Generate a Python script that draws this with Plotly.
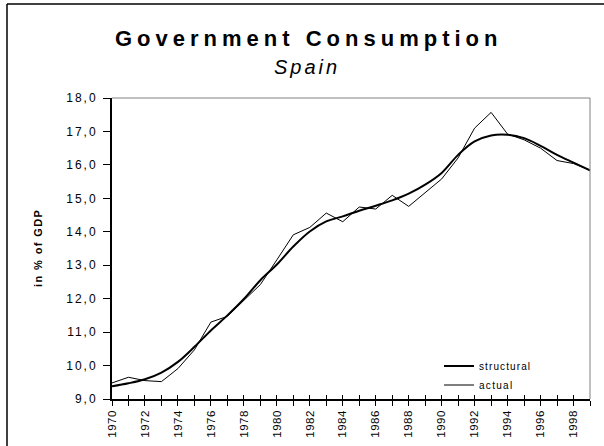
import plotly.graph_objects as go

# ---- data ----
years = list(range(1970, 2000))
structural = [9.38, 9.47, 9.59, 9.79, 10.11, 10.56, 11.05, 11.50, 11.99, 12.55,
              13.02, 13.56, 14.01, 14.31, 14.46, 14.63, 14.78, 14.94, 15.14, 15.41,
              15.76, 16.30, 16.70, 16.88, 16.90, 16.80, 16.57, 16.30, 16.07, 15.84]
actual = [9.48, 9.65, 9.55, 9.52, 9.91, 10.47, 11.30, 11.47, 11.95, 12.42,
          13.16, 13.91, 14.13, 14.56, 14.30, 14.74, 14.68, 15.09, 14.76, 15.17,
          15.58, 16.21, 17.10, 17.57, 16.92, 16.75, 16.50, 16.13, 16.04, 15.84]
y_tick_values = [9, 10, 11, 12, 13, 14, 15, 16, 17, 18]
y_tick_labels = ["9,0", "10,0", "11,0", "12,0", "13,0", "14,0", "15,0", "16,0", "17,0", "18,0"]
x_tick_values = years
x_tick_labels = [str(y) if y % 2 == 0 else "" for y in years]

title_text = "Government Consumption"
subtitle_text = "Spain"
y_title_text = "in % of GDP"

FONT = "Liberation Sans, Arial, Helvetica, sans-serif"


def spaced(txt, px):
    if not txt:
        return txt
    return f'<span style="letter-spacing:{px}px">{txt}</span>'


fig = go.Figure()
fig.add_trace(go.Scatter(
    x=years, y=structural, name=spaced("structural", 1.1), mode="lines",
    line=dict(color="black", width=2, shape="spline", smoothing=1.0),
))
fig.add_trace(go.Scatter(
    x=years, y=actual, name=spaced("actual", 1.3), mode="lines",
    line=dict(color="black", width=1),
))
# invisible helper trace so the overlay axis (inner half of x ticks) is drawn
fig.add_trace(go.Scatter(
    x=years, y=actual, xaxis="x2", mode="lines", opacity=0,
    showlegend=False, hoverinfo="skip", line=dict(width=0),
))

W, H = 604, 446
# plot area in screen pixels: x 112..590, y 98..399
L, T = 112, 98
R = W - 590
B = H - 399
pw = W - L - R
ph = H - T - B


def px_x(p):
    return (p - L) / pw


def px_y(p):
    return (H - B - p) / ph


fig.update_layout(
    width=W, height=H,
    margin=dict(l=L, r=R, t=T, b=B, pad=0, autoexpand=False),
    paper_bgcolor="white", plot_bgcolor="white",
    font=dict(family=FONT, color="black", size=12),
    hovermode=False,
    showlegend=True,
    legend=dict(
        x=px_x(439), y=px_y(351.5), xanchor="left", yanchor="top",
        bgcolor="rgba(0,0,0,0)", borderwidth=0,
        font=dict(size=10, family=FONT, color="black"),
        traceorder="normal",
    ),
    xaxis=dict(
        range=[1970, 1999], tickmode="array", automargin=False,
        tickvals=x_tick_values, ticktext=[spaced(t, 0.5) for t in x_tick_labels],
        tickangle=-90, ticks="outside", ticklen=5, tickwidth=1, tickcolor="black",
        showline=True, linecolor="black", linewidth=1.5,
        showgrid=False, zeroline=False,
        tickfont=dict(size=11.5, family=FONT, color="black"),
    ),
    xaxis2=dict(
        range=[1970, 1999], overlaying="x", anchor="y", side="bottom",
        tickmode="array", tickvals=x_tick_values, showticklabels=False,
        ticks="inside", ticklen=4, tickwidth=1, tickcolor="black", automargin=False,
        showline=False, showgrid=False, zeroline=False,
    ),
    yaxis=dict(
        range=[9, 18], tickmode="array", automargin=False,
        tickvals=y_tick_values, ticktext=[spaced(t, 2) for t in y_tick_labels],
        ticks="outside", ticklen=7, tickwidth=1, tickcolor="black",
        showline=True, linecolor="black", linewidth=2,
        showgrid=False, zeroline=False,
        tickfont=dict(size=12, family=FONT, color="black"),
        ticklabelstandoff=3,
    ),
    annotations=[
        dict(text="<b>" + spaced(title_text, 5) + "</b>", xref="paper", yref="paper",
             x=px_x(308), y=px_y(38), xanchor="center", yanchor="middle",
             showarrow=False, font=dict(size=22, family=FONT, color="black")),
        dict(text="<i>" + spaced(subtitle_text, 3) + "</i>", xref="paper", yref="paper",
             x=px_x(306.5), y=px_y(67), xanchor="center", yanchor="middle",
             showarrow=False, font=dict(size=20, family=FONT, color="black")),
        dict(text="<b>" + spaced(y_title_text, 1.4) + "</b>", xref="paper", yref="paper",
             x=px_x(38), y=px_y(248), xanchor="center", yanchor="middle",
             textangle=-90, showarrow=False,
             font=dict(size=11, family=FONT, color="black")),
    ],
    shapes=[
        # plot-area border (top and right, grey)
        dict(type="line", xref="paper", yref="paper", x0=0, x1=1, y0=1, y1=1,
             line=dict(color="#808080", width=1)),
        dict(type="line", xref="paper", yref="paper", x0=1, x1=1, y0=0, y1=1,
             line=dict(color="#808080", width=1)),
        # outer chart frame (left and top edges visible)
        dict(type="line", xref="paper", yref="paper",
             x0=px_x(7), x1=px_x(7), y0=px_y(4), y1=px_y(470),
             line=dict(color="black", width=1.5)),
        dict(type="line", xref="paper", yref="paper",
             x0=px_x(7), x1=px_x(640), y0=px_y(4), y1=px_y(4),
             line=dict(color="black", width=1.5)),
    ],
)

fig.write_html(
    "out.html",
    config={"displayModeBar": False, "staticPlot": True},
    post_script="document.body.style.margin='0px';document.body.style.padding='0px';",
)
